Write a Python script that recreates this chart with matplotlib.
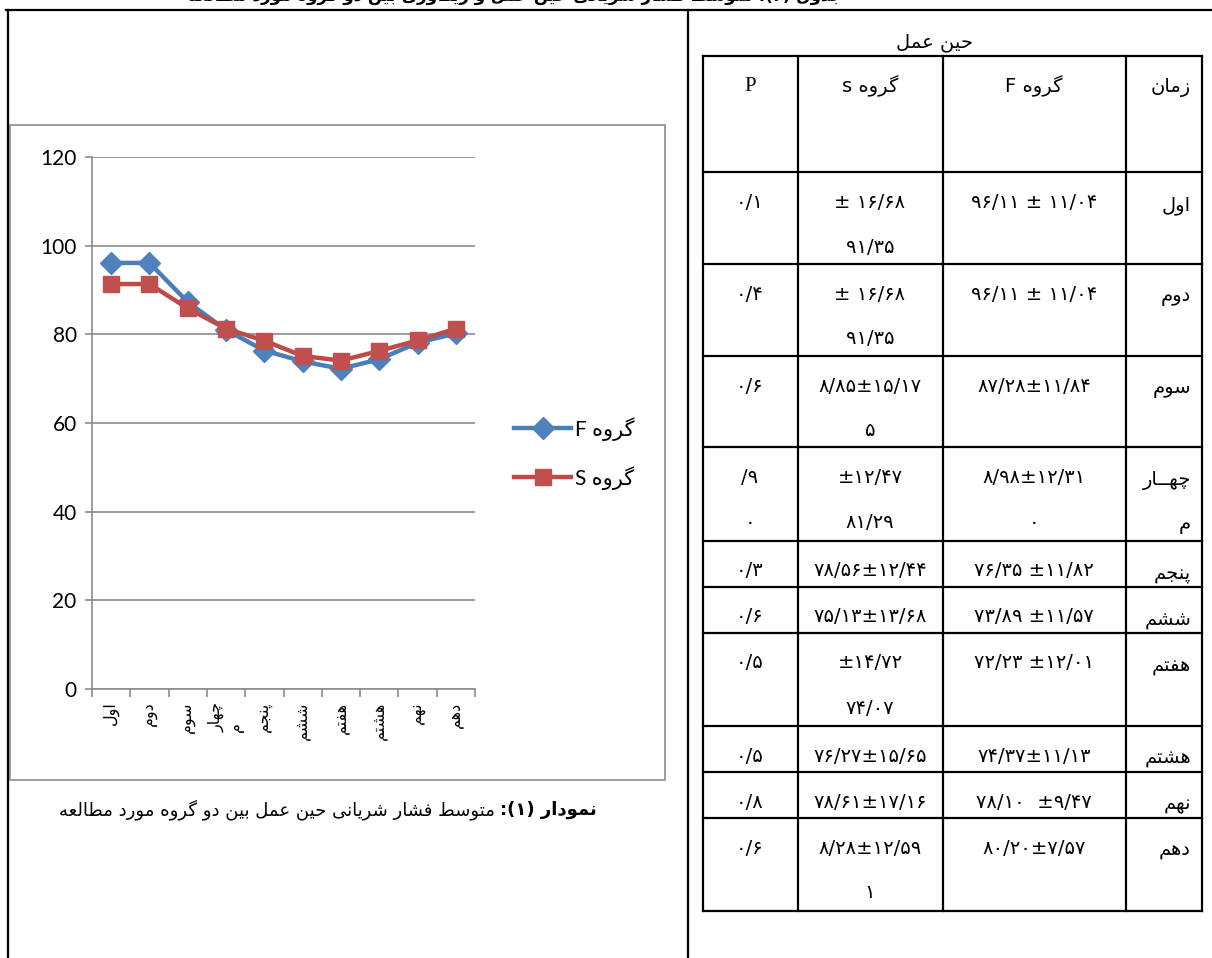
import re
import matplotlib
matplotlib.use('Agg')
import matplotlib.pyplot as plt

W, H = 1212, 958

# chart data
categories = ['اول', 'دوم', 'سوم', 'چهار\nم', 'پنجم', 'ششم', 'هفتم', 'هشتم', 'نهم', 'دهم']
group_f = [96.11, 96.11, 87.28, 80.98, 76.35, 73.89, 72.23, 74.37, 78.10, 80.20]
group_s = [91.35, 91.35, 85.85, 81.29, 78.56, 75.13, 74.07, 76.27, 78.61, 81.28]
series_names = ['گروه F', 'گروه S']
y_ticks = [0, 20, 40, 60, 80, 100, 120]

# table data (cells as shown, one string per printed line)
table_title = 'حین عمل'
table_header = ['زمان', 'گروه F', 'گروه s', 'P']
row_names = ['اول', 'دوم', 'سوم', 'چهــار\nم', 'پنجم', 'ششم', 'هفتم', 'هشتم', 'نهم', 'دهم']
f_cells = ['۹۶/۱۱ ± ۱۱/۰۴', '۹۶/۱۱ ± ۱۱/۰۴', '۸۷/۲۸±۱۱/۸۴', '۸/۹۸±۱۲/۳۱\n۰',
           '۷۶/۳۵ ±۱۱/۸۲', '۷۳/۸۹ ±۱۱/۵۷', '۷۲/۲۳ ±۱۲/۰۱', '۷۴/۳۷±۱۱/۱۳',
           '۷۸/۱۰  ±۹/۴۷', '۸۰/۲۰±۷/۵۷']
s_cells = ['± ۱۶/۶۸\n۹۱/۳۵', '± ۱۶/۶۸\n۹۱/۳۵', '۸/۸۵±۱۵/۱۷\n۵', '±۱۲/۴۷\n۸۱/۲۹',
           '۷۸/۵۶±۱۲/۴۴', '۷۵/۱۳±۱۳/۶۸', '±۱۴/۷۲\n۷۴/۰۷', '۷۶/۲۷±۱۵/۶۵',
           '۷۸/۶۱±۱۷/۱۶', '۸/۲۸±۱۲/۵۹\n۱']
p_cells = ['۰/۱', '۰/۴', '۰/۶', '/۹\n۰', '۰/۳', '۰/۶', '۰/۵', '۰/۵', '۰/۸', '۰/۶']

caption_bold = 'نمودار (۱):'
caption_text = 'متوسط فشار شریانی حین عمل بین دو گروه مورد مطالعه'
page_title = 'جدول (۲): متوسط فشار شریانی حین عمل و ریکاوری بین دو گروه مورد مطالعه'

# --- minimal Persian shaping + right-to-left ordering ---
FORMS = {
    'ا': ('\uFE8D', '\uFE8E', None, None),
    'آ': ('\uFE81', '\uFE82', None, None),
    'ب': ('\uFE8F', '\uFE90', '\uFE91', '\uFE92'),
    'پ': ('\uFB56', '\uFB57', '\uFB58', '\uFB59'),
    'ت': ('\uFE95', '\uFE96', '\uFE97', '\uFE98'),
    'ج': ('\uFE9D', '\uFE9E', '\uFE9F', '\uFEA0'),
    'چ': ('\uFB7A', '\uFB7B', '\uFB7C', '\uFB7D'),
    'ح': ('\uFEA1', '\uFEA2', '\uFEA3', '\uFEA4'),
    'خ': ('\uFEA5', '\uFEA6', '\uFEA7', '\uFEA8'),
    'د': ('\uFEA9', '\uFEAA', None, None),
    'ر': ('\uFEAD', '\uFEAE', None, None),
    'ز': ('\uFEAF', '\uFEB0', None, None),
    'س': ('\uFEB1', '\uFEB2', '\uFEB3', '\uFEB4'),
    'ش': ('\uFEB5', '\uFEB6', '\uFEB7', '\uFEB8'),
    'ط': ('\uFEC1', '\uFEC2', '\uFEC3', '\uFEC4'),
    'ع': ('\uFEC9', '\uFECA', '\uFECB', '\uFECC'),
    'ف': ('\uFED1', '\uFED2', '\uFED3', '\uFED4'),
    'ق': ('\uFED5', '\uFED6', '\uFED7', '\uFED8'),
    'ک': ('\uFB8E', '\uFB8F', '\uFB90', '\uFB91'),
    'گ': ('\uFB92', '\uFB93', '\uFB94', '\uFB95'),
    'ل': ('\uFEDD', '\uFEDE', '\uFEDF', '\uFEE0'),
    'م': ('\uFEE1', '\uFEE2', '\uFEE3', '\uFEE4'),
    'ن': ('\uFEE5', '\uFEE6', '\uFEE7', '\uFEE8'),
    'و': ('\uFEED', '\uFEEE', None, None),
    'ه': ('\uFEE9', '\uFEEA', '\uFEEB', '\uFEEC'),
    'ی': ('\uFBFC', '\uFBFD', '\uFBFE', '\uFBFF'),
    'ـ': ('\u0640', '\u0640', '\u0640', '\u0640'),
}
MIRROR = str.maketrans('()', ')(')
LTR = r'[A-Za-z0-9\u06F0-\u06F9]'


def shape(s):
    out = []
    for i, ch in enumerate(s):
        if ch not in FORMS:
            out.append(ch)
            continue
        f = FORMS[ch]
        prev = s[i - 1] if i > 0 else ''
        nxt = s[i + 1] if i + 1 < len(s) else ''
        jp = prev in FORMS and FORMS[prev][2] is not None
        jn = nxt in FORMS and f[2] is not None
        if jp and jn:
            out.append(f[3])
        elif jp:
            out.append(f[1])
        elif jn:
            out.append(f[2])
        else:
            out.append(f[0])
    return ''.join(out)


def fa(text):
    lines = []
    for line in text.split('\n'):
        runs = re.findall(LTR + r'+|(?:(?!' + LTR + r').)+', shape(line))
        vis = ''
        for r in reversed(runs):
            if re.match(LTR, r):
                vis += r
            else:
                vis += r[::-1].translate(MIRROR)
        lines.append(vis)
    return '\n'.join(lines)


AR = ['DejaVu Sans']
NUM = ['Lato', 'DejaVu Sans']

fig = plt.figure(figsize=(W / 100, H / 100), dpi=100)
bg = fig.add_axes([0, 0, 1, 1])
bg.set_xlim(0, W)
bg.set_ylim(H, 0)
bg.axis('off')

# page frame
bg.plot([6, W], [10, 10], color='black', lw=1.6)
bg.plot([8, 8], [10, H], color='black', lw=1.6)
bg.plot([688, 688], [10, H], color='black', lw=1.6)
# table title of the page above, cut off by the page edge as in the source
bg.text(515, -5, fa(page_title), ha='center', va='center', fontsize=12, family=AR,
        fontweight='bold')

# chart border
bg.add_patch(plt.Rectangle((10, 125), 655, 655, fill=False, edgecolor='#8c8c8c', lw=1.2))

# chart
x0, x1, y0, y1 = 92, 475, 689, 157
ax = fig.add_axes([x0 / W, 1 - y0 / H, (x1 - x0) / W, (y0 - y1) / H])
ax.patch.set_visible(False)
xs = [i + 0.5 for i in range(len(categories))]
ax.plot(xs, group_f, color='#4A7EBB', lw=3.2, marker='D', markersize=11,
        markerfacecolor='#4F81BD', markeredgecolor='#4F81BD', label=fa(series_names[0]))
ax.plot(xs, group_s, color='#BE4B48', lw=3.2, marker='s', markersize=11,
        markerfacecolor='#C0504D', markeredgecolor='#C0504D', label=fa(series_names[1]))
ax.set_xlim(0, len(categories))
ax.set_ylim(0, 120)
ax.set_yticks(y_ticks)
ax.set_yticklabels([str(v) for v in y_ticks], family=NUM, fontsize=15)
ax.yaxis.grid(True, color='#8c8c8c', lw=1.2)
ax.set_axisbelow(True)
ax.set_xticks(range(len(categories) + 1))
ax.set_xticklabels([])
ax.set_xticks(xs, [fa(c) for c in categories], minor=True)
for t in ax.get_xticklabels(minor=True):
    t.set_rotation(90)
    t.set_fontsize(11.5)
    t.set_family(AR)
    t.set_multialignment('left')
ax.tick_params(axis='x', which='major', length=6, color='#8c8c8c', width=1.2)
ax.tick_params(axis='x', which='minor', length=0, pad=9)
ax.tick_params(axis='y', length=5, color='#8c8c8c', width=1.2, pad=6)
for side in ['top', 'right']:
    ax.spines[side].set_visible(False)
for side in ['left', 'bottom']:
    ax.spines[side].set_color('#8c8c8c')
    ax.spines[side].set_linewidth(1.2)

fig.legend(loc='upper left', bbox_to_anchor=(514 / W, 1 - 417 / H), frameon=False,
           handlelength=2.75, handletextpad=0.2, labelspacing=1.2, borderpad=0,
           borderaxespad=0, prop={'family': NUM, 'size': 15})

# caption under the chart
r = fig.canvas.get_renderer()
tb = bg.text(597, 810, fa(caption_bold), ha='right', va='center', fontsize=13,
             family=AR, fontweight='bold')
bw = tb.get_window_extent(renderer=r).width
bg.text(597 - bw - 5, 810, fa(caption_text), ha='right', va='center', fontsize=13, family=AR)

# table
col_x = [703, 798, 943, 1126, 1202]
row_y = [56, 172, 264, 356, 447, 541, 587, 633, 726, 772, 818, 911]
for x in col_x:
    bg.plot([x, x], [row_y[0], row_y[-1]], color='black', lw=1.6)
for y in row_y:
    bg.plot([col_x[0], col_x[-1]], [y, y], color='black', lw=1.6)
bg.text(934, 42, fa(table_title), ha='center', va='center', fontsize=14, family=AR)

centers = {'p': 750, 's': 870, 'f': 1034}
fs = 14
bg.text(1191, row_y[0] + 31, fa(table_header[0]), ha='right', va='center', fontsize=fs, family=AR)
bg.text(centers['f'], row_y[0] + 30, fa(table_header[1]), ha='center', va='center', fontsize=fs, family=AR)
bg.text(centers['s'], row_y[0] + 30, fa(table_header[2]), ha='center', va='center', fontsize=fs, family=AR)
bg.text(centers['p'], row_y[0] + 30, table_header[3], ha='center', va='center', fontsize=15,
        family=['Liberation Serif'])

for i in range(len(row_names)):
    top = row_y[i + 1]
    for k, line in enumerate(row_names[i].split('\n')):
        bg.text(1191, top + 33 + 44 * k, fa(line), ha='right', va='center', fontsize=fs, family=AR)
    for key, cells in (('f', f_cells), ('s', s_cells), ('p', p_cells)):
        for k, line in enumerate(cells[i].split('\n')):
            bg.text(centers[key], top + 30 + 45 * k, line, ha='center', va='center',
                    fontsize=fs, family=AR)

fig.savefig('out.png', dpi=100)
plt.close(fig)
